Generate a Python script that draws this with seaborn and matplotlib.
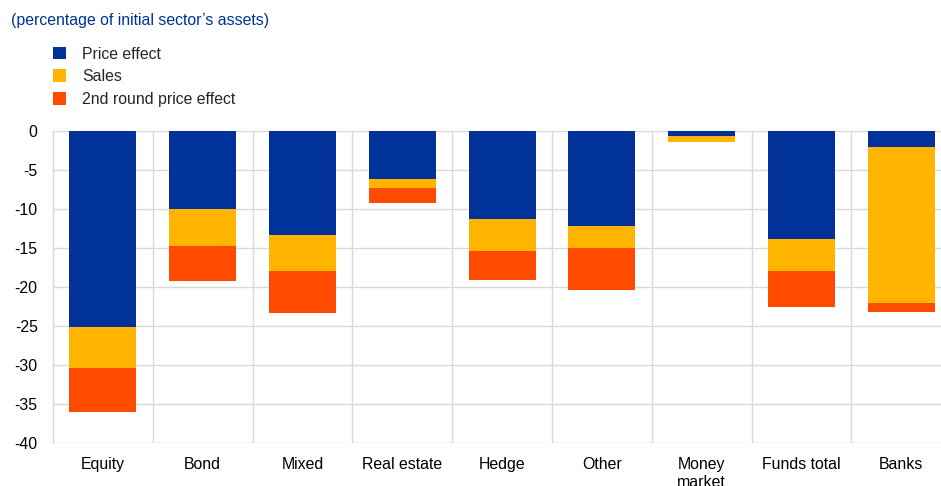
import numpy as np
import pandas as pd
import matplotlib
matplotlib.use("Agg")
import matplotlib.pyplot as plt
import seaborn as sns
from matplotlib.patches import Patch


categories = ["Equity", "Bond", "Mixed", "Real estate", "Hedge", "Other",
              "Money\nmarket", "Funds total", "Banks"]
price_effect = [-25.1, -10.0, -13.3, -6.15, -11.3, -12.2, -0.6, -13.8, -2.1]
sales = [-5.3, -4.7, -4.6, -1.2, -4.05, -2.8, -0.85, -4.2, -19.9]
second_round = [-5.6, -4.5, -5.4, -1.9, -3.7, -5.4, 0.0, -4.6, -1.2]

series_names = ["Price effect", "Sales", "2nd round price effect"]
colors = ["#003299", "#FFB400", "#FF4B00"]


def build_frame():
    """
    Cumulative levels so the bars can be overlaid as a stack.
    """
    p = np.array(price_effect)
    s = np.array(sales)
    r = np.array(second_round)
    return pd.DataFrame({
        "category": categories,
        "level1": p,
        "level2": p + s,
        "level3": p + s + r,
    })


def main():
    sns.set_style("white")
    plt.rcParams["font.family"] = ["Liberation Sans", "DejaVu Sans"]

    df = build_frame()

    fig = plt.figure(figsize=(9.41, 4.86), dpi=100)
    # the plot area runs slightly past the right edge of the picture
    ax = fig.add_axes([0.0563, 0.0885, 0.9545, 0.642])

    # draw deepest level first, then overlay shallower levels
    for col, color in zip(["level3", "level2", "level1"], colors[::-1]):
        sns.barplot(
            data=df,
            x="category",
            y=col,
            color=color,
            width=0.67,
            saturation=1,
            edgecolor="none",
            linewidth=0,
            ax=ax,
            zorder=3,
        )

    ax.set_xlim(-0.5, len(categories) - 0.5)
    ax.set_ylim(-40, 0)
    ax.set_yticks(np.arange(-40, 1, 5))
    ax.set_xlabel("")
    ax.set_ylabel("")

    grid_color = "#d9d9d9"
    ax.set_xticks(np.arange(0.5, len(categories) - 1, 1), minor=True)
    ax.grid(axis="y", which="major", color=grid_color, linewidth=1, zorder=0)
    ax.grid(axis="x", which="minor", color=grid_color, linewidth=1, zorder=0)
    ax.grid(axis="x", which="major", visible=False)

    for side in ["top", "right", "bottom"]:
        ax.spines[side].set_visible(False)
    ax.spines["left"].set_color(grid_color)
    ax.spines["left"].set_linewidth(1)

    fs = 11.4
    ax.tick_params(axis="both", which="both", length=0, labelsize=fs,
                   colors="black")
    ax.tick_params(axis="y", pad=11)
    ax.tick_params(axis="x", pad=10)
    ax.set_yticklabels([f"{v}" for v in np.arange(-40, 1, 5)])
    for lab in ax.get_xticklabels():
        lab.set_verticalalignment("top")
        lab.set_linespacing(1.3)

    fig.text(0.012, 0.958, "(percentage of initial sector\u2019s assets)",
             color="#003299", fontsize=fs, ha="left", va="center")

    handles = [Patch(facecolor=c, edgecolor="none", label=n)
               for c, n in zip(colors, series_names)]
    fig.legend(
        handles=handles,
        loc="upper left",
        bbox_to_anchor=(0.056, 0.904),
        frameon=False,
        fontsize=fs,
        handlelength=0.85,
        handleheight=0.85,
        handletextpad=1.0,
        labelspacing=0.48,
        borderaxespad=0,
        borderpad=0,
    )

    fig.savefig("out.png", dpi=100)
    plt.close(fig)


if __name__ == "__main__":
    main()
